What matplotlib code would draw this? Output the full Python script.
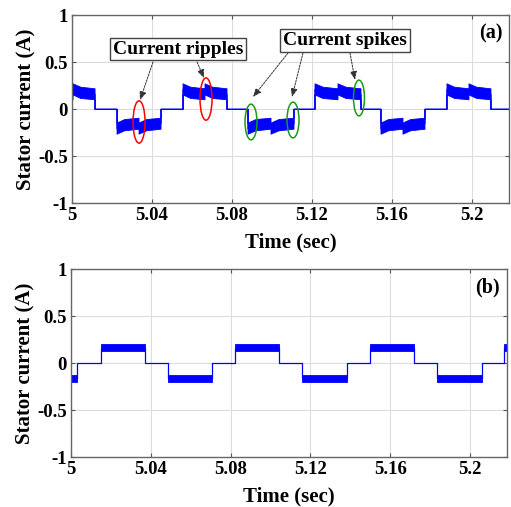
import numpy as np
import matplotlib.pyplot as plt
from matplotlib.patches import Ellipse

plt.rcParams['font.family'] = ['Liberation Serif', 'DejaVu Serif']
plt.rcParams['font.weight'] = 'bold'

# (a) stator current: conduction blocks (on, off, sign), each made of two decaying halves
a_on = [4.9895, 5.0225, 5.0555, 5.0880, 5.1215, 5.1545, 5.1875]
a_off = [5.0115, 5.0445, 5.0775, 5.1110, 5.1445, 5.1765, 5.2095]
a_sign = [1, -1, 1, -1, 1, -1, 1]
a_frac = (0.0, 0.35, 1.0)          # sample points inside each half
a_upper = (0.268, 0.232, 0.215)    # |i| upper envelope
a_lower = (0.150, 0.112, 0.098)    # |i| lower envelope
a_zero = -0.003

# (b) stator current: flat blocks
b_on = [4.9800, 5.0150, 5.0484, 5.0824, 5.1160, 5.1500, 5.1834, 5.2170]
b_off = [5.0030, 5.0370, 5.0707, 5.1045, 5.1385, 5.1720, 5.2060, 5.2400]
b_sign = [-1, 1, -1, 1, -1, 1, -1, 1]
b_frac = (0.0, 1.0)
b_upper = (0.202, 0.202)
b_lower = (0.126, 0.126)
b_zero = 0.005

xticks = [5, 5.04, 5.08, 5.12, 5.16, 5.2]
xtick_labels = ['5', '5.04', '5.08', '5.12', '5.16', '5.2']
yticks = [-1, -0.5, 0, 0.5, 1]
ytick_labels = ['-1', '-0.5', '0', '0.5', '1']


def build_trace(on, off, sign, frac, upper, lower, zero, halves=2):
    t, hi, lo = [], [], []
    for k in range(len(on)):
        edges = np.linspace(on[k], off[k], halves + 1)
        s = sign[k]
        for h in range(halves):
            for j, f in enumerate(frac):
                tt = edges[h] + f * (edges[h + 1] - edges[h])
                u, l = upper[j] * s, lower[j] * s
                t.append(tt)
                hi.append(max(u, l))
                lo.append(min(u, l))
        # zero segment until the next block
        t_next = on[k + 1] if k + 1 < len(on) else 5.3
        t += [off[k], t_next]
        hi += [zero, zero]
        lo += [zero, zero]
    return np.array(t), np.array(hi), np.array(lo)


fig = plt.figure(figsize=(5.11, 5.07), dpi=100)
ax1 = fig.add_axes([0.141, 0.5996, 0.855, 0.3708])
ax2 = fig.add_axes([0.139, 0.0986, 0.853, 0.3708])

traces = [
    (ax1, build_trace(a_on, a_off, a_sign, a_frac, a_upper, a_lower, a_zero)),
    (ax2, build_trace(b_on, b_off, b_sign, b_frac, b_upper, b_lower, b_zero, halves=1)),
]

for ax, (t, hi, lo) in traces:
    ax.fill_between(t, lo, hi, color='#0000ff', linewidth=0.6, edgecolor='#0000ff')
    ax.plot(t, (hi + lo) / 2, color='#0000ff', lw=0.9)
    ax.set_xlim(5, 5.2185)
    ax.set_ylim(-1, 1)
    ax.set_xticks(xticks)
    ax.set_xticklabels(xtick_labels)
    ax.set_yticks(yticks)
    ax.set_yticklabels(ytick_labels)
    ax.grid(True, color='#dcdcdc', lw=0.8)
    ax.set_axisbelow(True)
    ax.tick_params(direction='in', top=True, right=True, length=3, labelsize=13.5,
                   color='#555555', pad=3)
    for sp in ax.spines.values():
        sp.set_color('#666666')
        sp.set_linewidth(1.0)
    ax.set_xlabel('Time (sec)', fontsize=15, fontweight='bold', labelpad=6)
    ax.set_ylabel('Stator current (A)', fontsize=15, fontweight='bold', labelpad=1)

ax1.text(0.986, 0.904, '(a)', transform=ax1.transAxes, ha='right', va='center',
         fontsize=14.5, fontweight='bold')
ax2.text(0.984, 0.904, '(b)', transform=ax2.transAxes, ha='right', va='center',
         fontsize=14.5, fontweight='bold')

box = dict(boxstyle='square,pad=0.15', fc='white', ec='#444444', lw=1)
ax1.text(5.053, 0.638, 'Current ripples', ha='center', va='center', fontsize=14,
         fontweight='bold', bbox=box, zorder=5)
ax1.text(5.1365, 0.729, 'Current spikes', ha='center', va='center', fontsize=14,
         fontweight='bold', bbox=box, zorder=5)

arrows = [
    ((5.0405, 0.50), (5.0340, 0.096)),
    ((5.0625, 0.50), (5.0660, 0.330)),
    ((5.1080, 0.596), (5.0905, 0.128)),
    ((5.1155, 0.596), (5.1100, 0.128)),
    ((5.1390, 0.596), (5.1415, 0.310)),
]
for tail, head in arrows:
    ax1.annotate('', xy=head, xytext=tail,
                 arrowprops=dict(arrowstyle='-|>,head_length=0.5,head_width=0.2',
                                 color='#333333', lw=0.7, ls=(0, (2, 1.2)),
                                 shrinkA=0, shrinkB=0))

ellipses = [
    (5.0335, -0.138, 0.006, 0.45, 'red'),
    (5.0670, 0.106, 0.006, 0.45, 'red'),
    (5.0895, -0.138, 0.006, 0.38, '#1a9a1a'),
    (5.1105, -0.117, 0.006, 0.38, '#1a9a1a'),
    (5.1435, 0.117, 0.0055, 0.38, '#1a9a1a'),
]
for x, y, w, h, c in ellipses:
    ax1.add_patch(Ellipse((x, y), w, h, fill=False, ec=c, lw=1.1, zorder=4))

plt.savefig('out.png', dpi=100)
